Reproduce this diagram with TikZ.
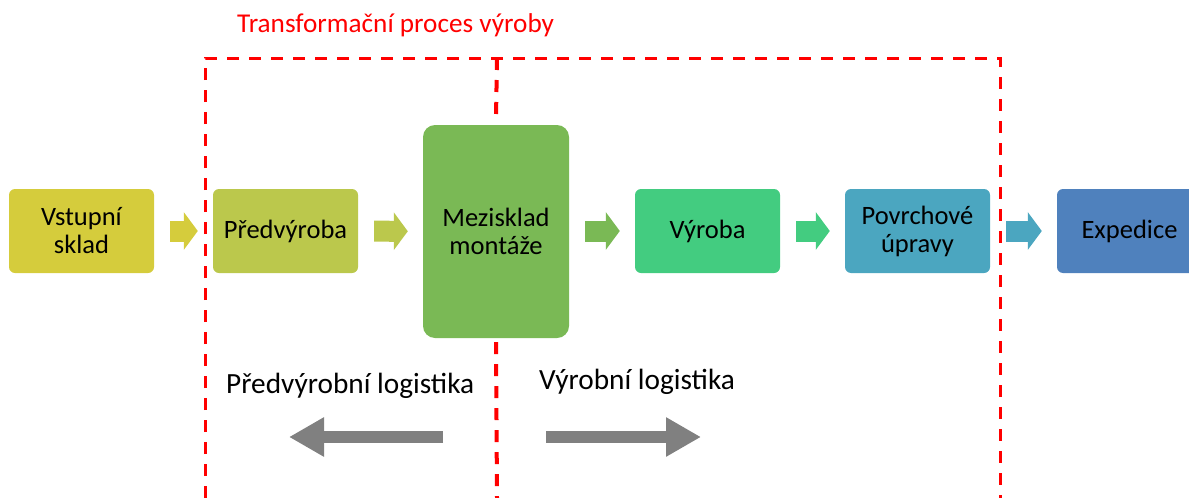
\documentclass[tikz,border=0pt]{standalone}
\usepackage{fontspec}
\setmainfont{Carlito}
\usetikzlibrary{arrows.meta}

\definecolor{vstupcol}{RGB}{213,204,60}
\definecolor{predcol}{RGB}{187,200,76}
\definecolor{mezcol}{RGB}{122,185,85}
\definecolor{vyrcol}{RGB}{67,204,128}
\definecolor{povrcol}{RGB}{75,166,192}
\definecolor{expcol}{RGB}{79,129,189}
\definecolor{smercol}{RGB}{128,128,128}

\tikzset{
    box/.style={rectangle, rounded corners=6pt, minimum width=145pt, minimum height=84pt,
        inner sep=0pt, align=center, text=black, font=\fontsize{26.5}{28}\selectfont},
    flow/.style={line width=21pt, -{Triangle[width=37pt, length=14pt]},
        shorten <=16pt, shorten >=15pt},
    hranice/.style={red, line width=3pt, dash pattern=on 12pt off 10pt},
    smer/.style={smercol, line width=12pt, -{Triangle[width=37pt, length=35pt]}},
    popis/.style={anchor=base west, inner sep=0pt, font=\fontsize{29.3}{32}\selectfont}
}

\begin{document}
\begin{tikzpicture}[x=1pt, y=-1pt]
    \useasboundingbox (0,0) rectangle (1189,498);

    % hranice transformacniho procesu
    \draw[hranice] (205,498) -- (205,58) -- (1000,58) -- (1000,498);
    \node[anchor=base west, inner sep=0pt, red, font=\fontsize{27.2}{29}\selectfont] (titul) at (237,32) {Transformační proces výroby};

    \node[box, fill=vstupcol] (vstup) at (81.5,231) {Vstupní\\sklad};
    \node[box, fill=predcol] (pred) at (285.5,231) {Předvýroba};
    \node[box, fill=mezcol, rounded corners=12pt, minimum width=146pt, minimum height=213pt] (mez) at (496,231.5) {Mezisklad\\montáže};
    \node[box, fill=vyrcol] (vyr) at (707.5,231) {Výroba};
    \node[box, fill=povrcol] (povr) at (917.5,231) {Povrchové\\úpravy};
    \node[box, fill=expcol] (exp) at (1129.5,231) {Expedice};

    \draw[flow, vstupcol] (vstup) -- (pred);
    \draw[flow, predcol] (pred) -- (mez);
    \draw[flow, mezcol] (mez.east |- vyr) -- (vyr);
    \draw[flow, vyrcol] (vyr) -- (povr);
    \draw[flow, povrcol] (povr) -- (exp);

    % deleni logistiky
    \draw[hranice, line width=4pt] (497,58) -- ([yshift=7pt]mez.north);
    \draw[hranice, line width=4pt] ([yshift=-4pt]mez.south) -- (497,498);

    \node[popis] (predlog) at (226,393) {Předvýrobní logistika};
    \node[popis] (vyrlog) at (539,389) {Výrobní logistika};

    \coordinate (lev_a) at (443,437);
    \coordinate (lev_b) at (289,437);
    \coordinate (prav_a) at (546,437);
    \coordinate (prav_b) at (701,437);
    \draw[smer] (lev_a) -- (lev_b);
    \draw[smer] (prav_a) -- (prav_b);
\end{tikzpicture}
\end{document}
